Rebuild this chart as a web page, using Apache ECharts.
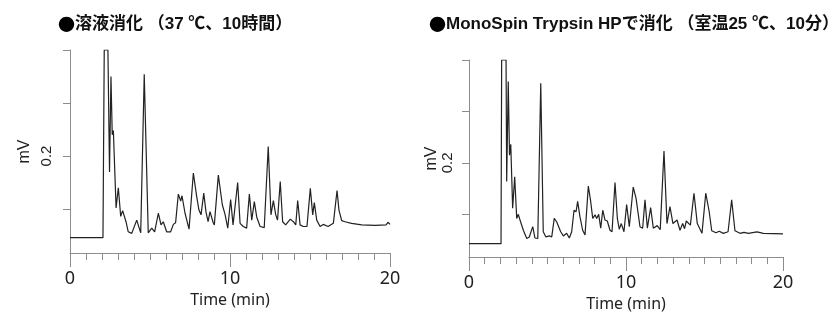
<!DOCTYPE html>
<html>
<head>
<meta charset="utf-8">
<script src="https://cdn.jsdelivr.net/npm/echarts@6/dist/echarts.min.js"></script>
<style>
html,body{margin:0;padding:0;background:#fff;}
#c{width:832px;height:319px;}
</style>
</head>
<body>
<div id="c"></div>
<script>
// ---- data ----
var titleLeft = '溶液消化 （37 ℃、10時間）';
var titleRight = 'MonoSpin Trypsin HPで消化 （室温25 ℃、10分）';
var titleBullet = '●';
var xName = 'Time (min)';
var yName = 'mV';
var yLabelValues = [0.2];
var yTickValues = [0.1, 0.2, 0.3, 0.4];

var leftTime = [0, 2.06, 2.14, 2.37, 2.47, 2.56, 2.64, 2.71, 2.88, 3.02, 3.17, 3.29, 3.5, 3.64, 3.86, 4.17, 4.42, 4.64, 4.89, 5.11, 5.29, 5.52, 5.69, 5.83, 6.04, 6.29, 6.46, 6.6, 6.77, 6.92, 7.0, 7.19, 7.44, 7.71, 7.92, 8.06, 8.19, 8.36, 8.5, 8.63, 8.75, 8.94, 9.02, 9.27, 9.52, 9.69, 9.86, 10.04, 10.19, 10.31, 10.48, 10.63, 10.83, 11.04, 11.21, 11.36, 11.52, 11.67, 11.88, 12.14, 12.39, 12.56, 12.71, 12.86, 12.97, 13.14, 13.29, 13.48, 13.77, 13.96, 14.11, 14.23, 14.38, 14.58, 14.81, 15.02, 15.17, 15.27, 15.42, 15.63, 15.83, 16.13, 16.46, 16.69, 16.81, 16.98, 17.19, 17.6, 18.23, 19.06, 19.75, 19.89, 20.0];
var leftSignal = [0.046, 0.046, 0.4, 0.4, 0.170, 0.350, 0.240, 0.248, 0.102, 0.140, 0.086, 0.097, 0.076, 0.057, 0.054, 0.079, 0.055, 0.354, 0.055, 0.064, 0.057, 0.092, 0.070, 0.076, 0.057, 0.057, 0.071, 0.074, 0.128, 0.115, 0.125, 0.092, 0.062, 0.168, 0.123, 0.098, 0.089, 0.130, 0.094, 0.076, 0.095, 0.075, 0.070, 0.164, 0.108, 0.090, 0.064, 0.118, 0.070, 0.068, 0.150, 0.073, 0.067, 0.064, 0.128, 0.079, 0.114, 0.085, 0.067, 0.065, 0.218, 0.089, 0.116, 0.089, 0.079, 0.152, 0.076, 0.070, 0.081, 0.076, 0.070, 0.116, 0.070, 0.067, 0.067, 0.139, 0.089, 0.112, 0.079, 0.067, 0.071, 0.067, 0.073, 0.135, 0.098, 0.078, 0.076, 0.073, 0.070, 0.069, 0.070, 0.075, 0.071];

var rightTime = [0, 2.04, 2.08, 2.36, 2.40, 2.50, 2.58, 2.66, 2.78, 2.91, 3.04, 3.14, 3.25, 3.46, 3.68, 3.84, 4.06, 4.20, 4.38, 4.57, 4.73, 4.90, 5.11, 5.27, 5.43, 5.59, 5.71, 5.84, 6.01, 6.22, 6.39, 6.54, 6.69, 6.82, 6.92, 7.07, 7.24, 7.39, 7.60, 7.75, 7.88, 8.03, 8.13, 8.26, 8.39, 8.52, 8.66, 8.81, 8.98, 9.11, 9.30, 9.45, 9.57, 9.70, 9.87, 10.04, 10.21, 10.46, 10.64, 10.89, 11.06, 11.21, 11.36, 11.57, 11.74, 11.99, 12.18, 12.42, 12.61, 12.80, 12.99, 13.25, 13.44, 13.61, 13.73, 13.84, 14.10, 14.33, 14.54, 14.84, 15.08, 15.30, 15.46, 15.73, 15.94, 16.20, 16.50, 16.73, 16.94, 17.26, 17.52, 17.79, 18.34, 18.75, 20.0];
var rightSignal = [0.043, 0.043, 0.4, 0.4, 0.164, 0.358, 0.215, 0.236, 0.112, 0.173, 0.092, 0.100, 0.089, 0.069, 0.053, 0.056, 0.076, 0.054, 0.053, 0.355, 0.066, 0.056, 0.058, 0.056, 0.092, 0.085, 0.082, 0.066, 0.058, 0.063, 0.054, 0.066, 0.108, 0.105, 0.125, 0.095, 0.069, 0.060, 0.155, 0.125, 0.092, 0.099, 0.092, 0.100, 0.073, 0.108, 0.089, 0.087, 0.069, 0.066, 0.162, 0.092, 0.071, 0.082, 0.066, 0.119, 0.076, 0.153, 0.131, 0.076, 0.073, 0.128, 0.073, 0.113, 0.073, 0.078, 0.070, 0.223, 0.082, 0.115, 0.082, 0.089, 0.069, 0.082, 0.072, 0.087, 0.079, 0.141, 0.082, 0.063, 0.141, 0.105, 0.068, 0.064, 0.067, 0.063, 0.066, 0.128, 0.068, 0.063, 0.065, 0.063, 0.066, 0.063, 0.062];

function zip(a, b) { return a.map(function (t, i) { return [t, b[i]]; }); }

var axisGray = '#8c8c8c';
var textCol = '#222';

function xAxisCfg(gi) {
  return {
    gridIndex: gi, type: 'value', min: 0, max: 20, interval: 10,
    name: xName, nameLocation: 'middle', nameGap: 37,
    nameTextStyle: { fontFamily: 'Noto Sans', fontSize: 16, color: textCol },
    axisLine: { show: true, lineStyle: { color: axisGray, width: 1 } },
    axisTick: { show: true, length: 14, lineStyle: { color: axisGray } },
    minorTick: { show: true, splitNumber: 10, length: 7, lineStyle: { color: axisGray } },
    splitLine: { show: false },
    axisLabel: { margin: 17, fontFamily: 'Noto Sans', fontSize: 18, color: textCol }
  };
}
function yAxisCfg(gi, nameGap, labelMargin) {
  return {
    gridIndex: gi, type: 'value', min: 0.017, max: 0.4,
    name: yName, nameLocation: 'middle', nameGap: nameGap, nameRotate: 90,
    nameTextStyle: { fontFamily: 'Liberation Sans', fontSize: 16, color: textCol },
    axisLine: { show: true, lineStyle: { color: axisGray, width: 1 } },
    axisTick: { show: true, length: 7, customValues: yTickValues, lineStyle: { color: axisGray } },
    splitLine: { show: false },
    axisLabel: { show: true, customValues: yLabelValues, rotate: 90, margin: labelMargin,
      fontFamily: 'Liberation Sans', fontSize: 15, color: textCol }
  };
}
function titleCfg(text, left) {
  return {
    text: '{b|' + titleBullet + '}{t|' + text + '}', left: left, top: 11,
    textStyle: {
      rich: {
        b: { fontFamily: 'Noto Sans CJK JP', fontSize: 17, color: '#000' },
        t: { fontFamily: 'Liberation Sans, Noto Sans CJK JP', fontSize: 17, fontWeight: 'bold', color: '#111' }
      }
    }
  };
}

var chart = echarts.init(document.getElementById('c'), null, { renderer: 'canvas' });
chart.setOption({
  animation: false,
  backgroundColor: '#fff',
  title: [titleCfg(titleLeft, 53), titleCfg(titleRight, 424)],
  grid: [
    { left: 70, top: 50, width: 320, height: 203 },
    { left: 469, top: 60, width: 314, height: 197 }
  ],
  xAxis: [xAxisCfg(0), xAxisCfg(1)],
  yAxis: [yAxisCfg(0, 37, 16), yAxisCfg(1, 29, 14)],
  series: [
    { type: 'line', xAxisIndex: 0, yAxisIndex: 0, data: zip(leftTime, leftSignal),
      showSymbol: false, lineStyle: { color: '#222', width: 1.2 }, silent: true },
    { type: 'line', xAxisIndex: 1, yAxisIndex: 1, data: zip(rightTime, rightSignal),
      showSymbol: false, lineStyle: { color: '#222', width: 1.2 }, silent: true }
  ]
});
</script>
</body>
</html>
